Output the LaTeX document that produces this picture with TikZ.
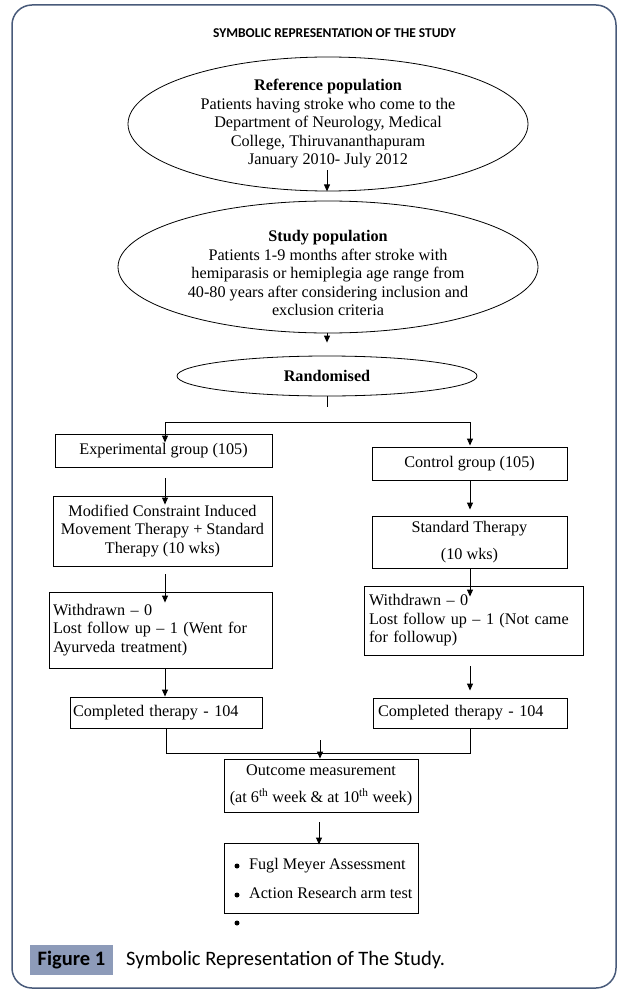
\documentclass[tikz,border=0pt]{standalone}
\usepackage{fontspec}
\setmainfont{Liberation Serif}
\newfontfamily\carl{Carlito}
\usetikzlibrary{shapes.geometric,arrows.meta,calc}
\definecolor{framec}{RGB}{72,90,122}
\definecolor{figbg}{RGB}{141,155,185}
\begin{document}
\begin{tikzpicture}[x=1pt,y=-1pt,
  txt/.style={font=\fontsize{16.2}{18.5}\selectfont},
  box/.style={draw, line width=0.9pt, rectangle, inner sep=0pt, txt, align=center},
  lbox/.style={draw, line width=0.9pt, rectangle, inner ysep=0pt, txt, align=left},
  ell/.style={draw, ellipse, line width=0.8pt, inner sep=0pt, txt, align=center},
  arr/.style={-{Triangle[length=7pt,width=6pt]}, line width=0.9pt},
  conn/.style={line width=0.9pt},
  dot/.style={circle, fill, inner sep=0pt, minimum size=5pt}]
\useasboundingbox (0,0) rectangle (630,1008);
\draw[framec, line width=1.5pt, rounded corners=20pt] (12,5) rectangle (616,988);

\node[font=\carl\bfseries\fontsize{13.5}{15}\selectfont, inner sep=0pt] (title) at (334.5,33) {SYMBOLIC REPRESENTATION OF THE STUDY};

% ellipses
\node[ell, minimum width=400pt, minimum height=134pt] (e1) at (328,124)
  {\textbf{Reference population}\\Patients having stroke who come to the\\Department of Neurology, Medical\\College, Thiruvananthapuram\\January 2010- July 2012};
\node[ell, minimum width=420pt, minimum height=132pt] (e2) at (328,267) {};
\node[txt, align=center, inner sep=0pt] (e2t) at (328,273)
  {\textbf{Study population}\\Patients 1-9 months after stroke with\\hemiparasis or hemiplegia age range from\\40-80 years after considering inclusion and\\exclusion criteria};
\node[ell, minimum width=300pt, minimum height=40pt] (e3) at (327,376) {\textbf{Randomised}};

\draw[arr] ($(e1.south)+(-1,-21)$) -- ($(e1.south)+(-1,0)$);
\draw[arr] ($(e3.north)+(0,-23)$) -- ($(e3.north)+(0,-13)$);
\coordinate (tick) at (327,407);
\draw[conn] (e3.south) -- (tick);

% left column
\node[box, minimum width=217pt, minimum height=33pt] (exp) at (163.5,450.5) {Experimental group (105)};
\node[box, minimum width=219pt, minimum height=70pt] (mc) at (162.5,531)
  {Modified Constraint Induced\\Movement Therapy + Standard\\Therapy (10 wks)};
\node[lbox, inner xsep=4pt, text width=215pt, minimum height=76pt] (wl) at (160.5,630)
  {Withdrawn -- 0\\Lost follow up -- 1 (Went for\\Ayurveda treatment)};
\node[lbox, inner xsep=3pt, text width=186pt, minimum height=31pt] (cl) at (166,712.5)
  {Completed therapy - 104};

% right column
\node[box, minimum width=195pt, minimum height=33pt] (ctrl) at (469.5,463.5) {Control group (105)};
\node[box, minimum width=195pt, minimum height=52pt] (std) at (469.5,542)
  {Standard Therapy\\[8pt](10 wks)};
\node[lbox, inner xsep=5pt, text width=209pt, minimum height=69pt] (wr) at (473.5,620.5)
  {Withdrawn -- 0\\Lost follow up -- 1 (Not came\\for followup)};
\node[lbox, inner xsep=5pt, text width=184pt, minimum height=30pt] (cr) at (470,713)
  {Completed therapy - 104};

% split
\coordinate (splitL) at (165,422);
\coordinate (splitR) at (470,422);
\draw[conn] (splitL) -- (splitR);
\draw[arr] (splitL) -- ($(exp.north -| splitL)+(0,9)$);
\draw[arr] (splitR) -- ($(ctrl.north -| splitR)+(0,-1)$);

% left arrows
\draw[arr] ($(exp.south -| splitL)+(0,11)$) -- ($(mc.north -| splitL)+(0,9)$);
\draw[arr] ($(mc.south -| splitL)+(0,8)$) -- ($(wl.north -| splitL)+(0,11)$);
\draw[arr] (wl.south -| splitL) -- (cl.north -| splitL);

% right arrows
\draw[arr] (ctrl.south -| splitR) -- ($(std.north -| splitR)+(0,-6)$);
\draw[arr] (std.south -| splitR) -- ($(wr.north -| splitR)+(0,11)$);
\draw[arr] ($(wr.south -| splitR)+(0,11)$) -- ($(cr.north -| splitR)+(0,-7)$);

% join
\coordinate (joinL) at (166,753);
\coordinate (joinR) at (470,753);
\draw[conn] (cl.south) -- (joinL) -- (joinR) -- (cr.south);

% outcome
\node[box, minimum width=194pt, minimum height=53pt] (out) at (321,785.5)
  {Outcome measurement\\[8.5pt](at 6\textsuperscript{th} week \& at 10\textsuperscript{th} week)};
\coordinate (oa) at (320,740);
\draw[arr] (oa) -- (out.north -| oa);
\node[lbox, inner xsep=0pt, minimum width=194pt, minimum height=70pt] (bul) at (321,878)
  {\hspace*{19.5pt}Fugl Meyer Assessment\\[10.5pt]\hspace*{19.5pt}Action Research arm test};
\draw[arr] ($(out.south -| oa)+(-1,10)$) -- ($(bul.north -| oa)+(-1,2)$);
\node[dot] (b1) at (237,866) {};
\node[dot] (b2) at (237,895) {};
\node[dot] (b3) at (237,923) {};

% caption
\node[fill=figbg, minimum width=83pt, minimum height=30pt, inner sep=0pt,
  font=\carl\bfseries\fontsize{20.5}{22}\selectfont] (fig) at (71.5,960) {Figure 1};
\node[anchor=west, inner sep=0pt, font=\carl\fontsize{20.5}{22}\selectfont] (cap) at (126,960)
  {Symbolic Representation of The Study.};
\end{tikzpicture}
\end{document}
